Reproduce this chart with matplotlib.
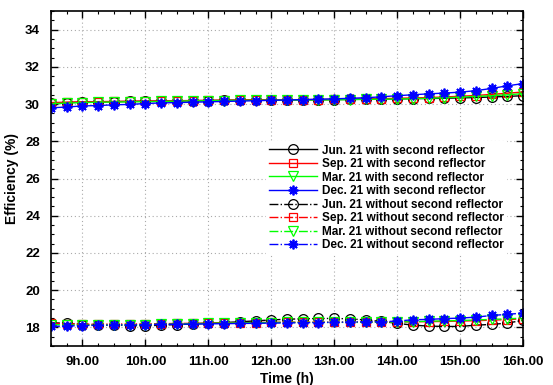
import numpy as np
import matplotlib
matplotlib.use("Agg")
import matplotlib.pyplot as plt
from matplotlib.ticker import MultipleLocator

plt.rcParams['font.family'] = ['Liberation Sans', 'DejaVu Sans']

# Time of day (h), one sample every quarter hour
hours = np.arange(8.5, 16.0001, 0.25)

# Efficiency (%) with second reflector
jun_with = [30.05, 30.08, 30.10, 30.12, 30.13, 30.14, 30.15, 30.16, 30.17, 30.18, 30.19, 30.20,
            30.21, 30.22, 30.22, 30.23, 30.23, 30.24, 30.24, 30.25, 30.26, 30.27, 30.28, 30.29,
            30.30, 30.31, 30.33, 30.35, 30.38, 30.41, 30.45]
sep_with = [30.08, 30.10, 30.12, 30.13, 30.14, 30.15, 30.16, 30.17, 30.18, 30.19, 30.20, 30.21,
            30.22, 30.22, 30.23, 30.23, 30.24, 30.24, 30.25, 30.26, 30.27, 30.29, 30.31, 30.33,
            30.35, 30.38, 30.42, 30.46, 30.52, 30.58, 30.65]
mar_with = [30.02, 30.05, 30.08, 30.10, 30.11, 30.12, 30.13, 30.14, 30.16, 30.17, 30.18, 30.19,
            30.20, 30.20, 30.21, 30.21, 30.22, 30.22, 30.23, 30.24, 30.25, 30.26, 30.27, 30.29,
            30.31, 30.34, 30.37, 30.41, 30.45, 30.50, 30.56]
dec_with = [29.80, 29.84, 29.90, 29.92, 29.96, 29.98, 30.03, 30.06, 30.08, 30.10, 30.12, 30.14,
            30.16, 30.18, 30.20, 30.22, 30.24, 30.26, 30.28, 30.31, 30.34, 30.39, 30.45, 30.50,
            30.55, 30.59, 30.64, 30.72, 30.84, 30.98, 31.10]

# Efficiency (%) without second reflector
jun_without = [18.25, 18.22, 18.15, 18.12, 18.12, 18.10, 18.08, 18.12, 18.15, 18.18, 18.22, 18.26,
               18.30, 18.35, 18.40, 18.44, 18.46, 18.48, 18.48, 18.46, 18.40, 18.32, 18.22, 18.12,
               18.07, 18.05, 18.05, 18.12, 18.16, 18.23, 18.38]
sep_without = [18.22, 18.20, 18.18, 18.17, 18.18, 18.18, 18.19, 18.20, 18.21, 18.22, 18.23, 18.24,
               18.25, 18.26, 18.27, 18.28, 18.28, 18.28, 18.28, 18.28, 18.28, 18.28, 18.29, 18.30,
               18.31, 18.32, 18.34, 18.36, 18.39, 18.42, 18.46]
mar_without = [18.15, 18.13, 18.12, 18.12, 18.13, 18.14, 18.15, 18.17, 18.18, 18.20, 18.22, 18.23,
               18.24, 18.25, 18.26, 18.27, 18.27, 18.27, 18.27, 18.27, 18.27, 18.28, 18.29, 18.31,
               18.33, 18.35, 18.37, 18.40, 18.43, 18.46, 18.50]
dec_without = [18.05, 18.07, 18.10, 18.11, 18.13, 18.14, 18.15, 18.16, 18.17, 18.18, 18.19, 18.20,
               18.21, 18.22, 18.23, 18.24, 18.25, 18.26, 18.27, 18.29, 18.30, 18.30, 18.34, 18.41,
               18.43, 18.47, 18.50, 18.55, 18.64, 18.70, 18.77]

xtick_vals = [9, 10, 11, 12, 13, 14, 15, 16]
xtick_labels = ['9h.00', '10h.00', '11h.00', '12h.00', '13h.00', '14h.00', '15h.00', '16h.00']

# eight-armed asterisk marker
asterisk = (8, 2, 0)

series = [
    (jun_with, 'k', 'o', '-', 'Jun. 21 with second reflector'),
    (sep_with, 'r', 's', '-', 'Sep. 21 with second reflector'),
    (mar_with, '#00ff00', 'v', '-', 'Mar. 21 with second reflector'),
    (dec_with, 'b', asterisk, '-', 'Dec. 21 with second reflector'),
    (jun_without, 'k', 'o', '-.', 'Jun. 21 without second reflector'),
    (sep_without, 'r', 's', '-.', 'Sep. 21 without second reflector'),
    (mar_without, '#00ff00', 'v', '-.', 'Mar. 21 without second reflector'),
    (dec_without, 'b', asterisk, '-.', 'Dec. 21 without second reflector'),
]
marker_size = {'o': 7, 's': 6, 'v': 7}

fig = plt.figure(figsize=(5.53, 3.85), dpi=100)
ax = fig.add_axes([0.0922, 0.1013, 0.8536, 0.8701])

for vals, col, mk, ls, lab in series:
    if mk == asterisk:
        ax.plot(hours, vals, color=col, linestyle=ls, linewidth=1.0, marker=mk,
                markersize=7, markeredgecolor=col, markeredgewidth=1.3, label=lab)
    else:
        ax.plot(hours, vals, color=col, linestyle=ls, linewidth=1.0, marker=mk,
                markersize=marker_size[mk], markerfacecolor='none', markeredgecolor=col,
                markeredgewidth=0.9, label=lab)

ax.set_xlim(8.5, 16)
ax.set_ylim(17, 35)
ax.set_xticks(xtick_vals)
ax.set_xticklabels(xtick_labels)
ax.xaxis.set_minor_locator(MultipleLocator(0.25))
ax.yaxis.set_major_locator(MultipleLocator(2))
ax.yaxis.set_minor_locator(MultipleLocator(0.5))
ax.tick_params(which='both', direction='in', top=True, right=True)
ax.tick_params(which='major', length=5, width=1.0, labelsize=9.5)
ax.tick_params(axis='x', which='major', pad=7)
ax.tick_params(axis='y', which='major', pad=8)
ax.tick_params(which='minor', length=2.5, width=0.8)
for lbl in ax.get_xticklabels() + ax.get_yticklabels():
    lbl.set_fontweight('bold')
for sp in ax.spines.values():
    sp.set_linewidth(1.2)

ax.grid(True, which='major', linestyle=(0, (1, 2.5)), color='#aaaaaa', linewidth=0.8)

ax.set_xlabel('Time (h)', fontsize=10, fontweight='bold', labelpad=3)
ax.set_ylabel('Efficiency (%)', fontsize=10, fontweight='bold', labelpad=4)

leg = ax.legend(loc='upper left', bbox_to_anchor=(0.455, 0.612), frameon=True,
                fancybox=False, edgecolor='none', facecolor='white', framealpha=1,
                prop={'weight': 'bold', 'size': 8.5}, handlelength=4.0,
                labelspacing=0.13, borderpad=0.3, handletextpad=0.45,
                borderaxespad=0)

fig.savefig('out.png', dpi=100)
